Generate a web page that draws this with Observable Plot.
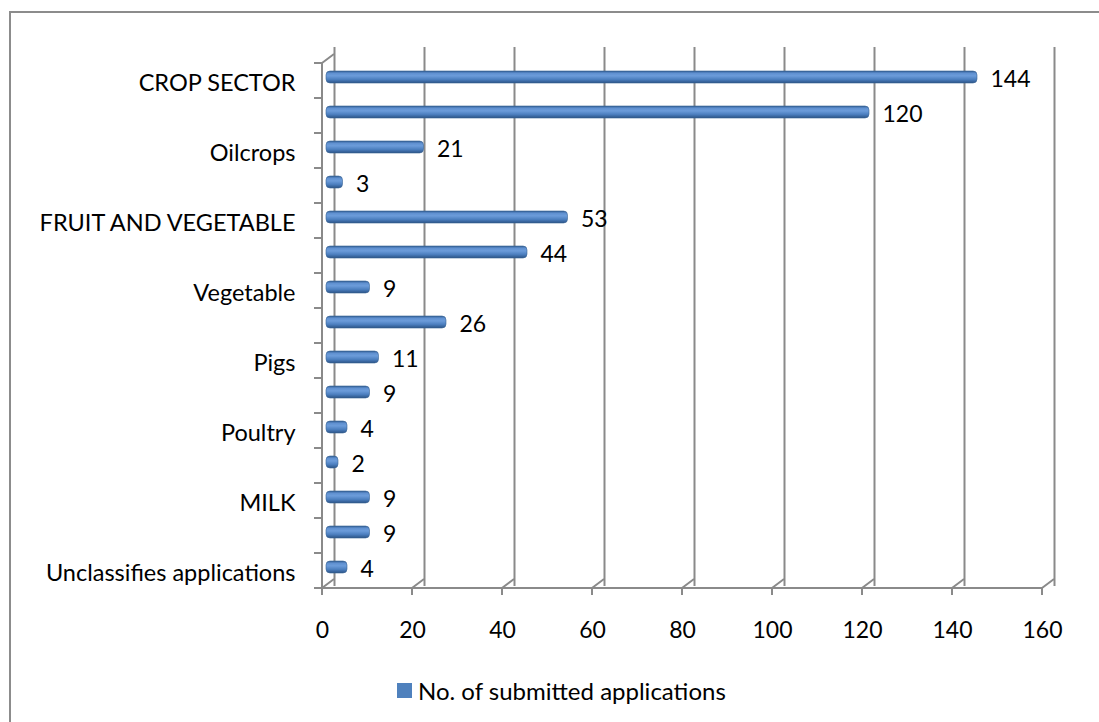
<!DOCTYPE html>
<html><head><meta charset="utf-8">
<script src="https://cdn.jsdelivr.net/npm/d3@7"></script>
<script src="https://cdn.jsdelivr.net/npm/@observablehq/plot@0.6"></script>
<style>
html,body{margin:0;padding:0;background:#fff;overflow:hidden;}
#wrap{position:relative;width:1099px;height:722px;overflow:hidden;font-family:Lato,"Open Sans",sans-serif;color:#000;}
#border{position:absolute;left:9px;top:11px;width:1200px;height:800px;border:2px solid #8c8c8c;box-sizing:border-box;}
#chart{position:absolute;left:0;top:0;}
#legend{position:absolute;left:397px;top:676px;font-size:24px;display:flex;align-items:center;white-space:nowrap;}
#legend .sw{display:inline-block;width:15px;height:15px;background:#4F81BD;margin-right:6px;}
</style></head><body>
<div id="wrap"><div id="border"></div><div id="chart"></div><div id="legend"><span class="sw"></span><span id="lgtext"></span></div></div>
<script>
const labels = ["CROP SECTOR","","Oilcrops","","FRUIT AND VEGETABLE","","Vegetable","","Pigs","","Poultry","","MILK","","Unclassifies applications"];
const values = [144,120,21,3,53,44,9,26,11,9,4,2,9,9,4];
const xTicks = [0,20,40,60,80,100,120,140,160];
const seriesName = "No. of submitted applications";

const data = values.map((v,i)=>({i, label: labels[i], v}));
const gridColor = "#8a8a8a";
const DX = 12, DY = -9; // 3D depth offset of the back wall

const plot = Plot.plot({
  width: 1099, height: 665,
  marginLeft: 322, marginRight: 57, marginTop: 56, marginBottom: 70,
  style: {fontFamily: "Lato, 'Open Sans', sans-serif", fontSize: "23px", color: "#000", background: "transparent", overflow: "visible"},
  x: {domain: [0, 160], ticks: xTicks, label: null},
  y: {domain: data.map(d => d.i), padding: 0, label: null},
  marks: [
    Plot.ruleX(xTicks, {dx: DX, dy: DY, stroke: gridColor, strokeWidth: 2}),
    Plot.barX(data, {y: "i", x1: 0, x2: "v", dx: 7, dy: -3.5, insetLeft: -3, insetTop: 11.5, insetBottom: 11.5, fill: "url(#barGrad)", rx: 4, stroke: "#3a6496", strokeWidth: 0.6}),
    Plot.text(data, {y: "i", x: "v", text: d => String(d.v), dx: 20, dy: -1, textAnchor: "start", fontSize: 23, fill: "#000"}),
    Plot.axisY({tickSize: 0, tickPadding: 27, tickFormat: i => labels[i], fontSize: 23.5, dy: 2, label: null}),
    Plot.axisX({ticks: xTicks, tickSize: 0, tickPadding: 26, fontSize: 23, label: null})
  ]
});

const svg = d3.select(plot);
const defs = svg.insert("defs", ":first-child");
const grad = defs.append("linearGradient").attr("id", "barGrad").attr("x1", 0).attr("y1", 0).attr("x2", 0).attr("y2", 1);
[["0%","#2f5b92"],["18%","#5f90d0"],["40%","#6c9cda"],["70%","#4c7fbf"],["100%","#2b5386"]].forEach(([o,c]) => grad.append("stop").attr("offset", o).attr("stop-color", c));

// 3D frame decoration drawn from Plot's own scales
const xs = plot.scale("x"), ys = plot.scale("y");
const x0 = xs.apply(0), xEnd = xs.apply(160);
const yTop = ys.apply(0), bw = ys.bandwidth;
const yBottom = ys.apply(values.length - 1) + bw;
const deco = svg.append("g").attr("stroke", gridColor).attr("stroke-width", 2).attr("fill", "none");
deco.append("path").attr("d", `M${x0},${yTop}V${yBottom}M${x0},${yTop}l${DX},${DY}`);
for (let k = 0; k <= values.length; k++) {
  const y = yTop + k * bw;
  deco.append("path").attr("d", `M${x0 - 8},${y}H${x0}`);
}
deco.append("path").attr("d", `M${x0},${yBottom}H${xEnd}`);
xTicks.forEach(t => {
  const x = xs.apply(t);
  deco.append("path").attr("d", `M${x},${yBottom}v7M${x},${yBottom}l${DX},${DY}`);
});

document.getElementById("chart").appendChild(plot);
document.getElementById("lgtext").textContent = seriesName;
</script>
</body></html>
